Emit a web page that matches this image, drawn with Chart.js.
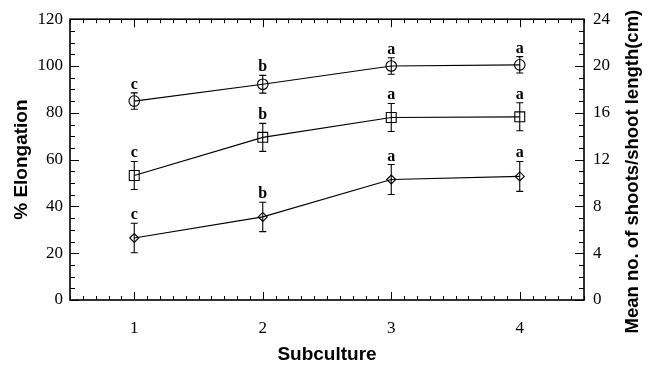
<!DOCTYPE html>
<html>
<head>
<meta charset="utf-8">
<script src="https://cdn.jsdelivr.net/npm/chart.js@4/dist/chart.umd.min.js"></script>
<style>
  html, body { margin: 0; padding: 0; background: #fff; }
</style>
</head>
<body>
<canvas id="chart" width="654" height="368"></canvas>
<script>
// Valores
const subculture = [1, 2, 3, 4];

const circleMean = [85, 92.2, 100, 100.5];
const circleErr = [3.5, 3.8, 3.5, 3.5];
const circleLetters = ['c', 'b', 'a', 'a'];

const squareMean = [53.2, 69.5, 78, 78.3];
const squareErr = [6, 6, 6, 6];
const squareLetters = ['c', 'b', 'a', 'a'];

const diamondMean = [26.5, 35.5, 51.5, 52.8];
const diamondErr = [6.3, 6.3, 6.4, 6.4];
const diamondLetters = ['c', 'b', 'a', 'a'];

const xTicks = [1, 2, 3, 4];
const yTicks = [0, 20, 40, 60, 80, 100, 120];
const y2Ticks = [0, 4, 8, 12, 16, 20, 24];

const serif = '"Liberation Serif", "Times New Roman", serif';
const sans = '"Liberation Sans", Arial, sans-serif';

const series = [
  { mean: circleMean, err: circleErr, letters: circleLetters, style: 'circle', radius: 5.3 },
  { mean: squareMean, err: squareErr, letters: squareLetters, style: 'rect', radius: 7 },
  { mean: diamondMean, err: diamondErr, letters: diamondLetters, style: 'rectRot', radius: 4.5 },
];

// eixos com marcas para dentro, barras de erro e letras
const framePlugin = {
  id: 'frame',
  afterDatasetsDraw(chart) {
    const { ctx, chartArea: a, scales: { x, y } } = chart;
    ctx.save();
    ctx.strokeStyle = '#000';
    ctx.fillStyle = '#000';

    // barras de erro
    ctx.lineWidth = 1.1;
    series.forEach(s => {
      s.mean.forEach((m, j) => {
        const px = x.getPixelForValue(subculture[j]);
        const top = y.getPixelForValue(m + s.err[j]);
        const bot = y.getPixelForValue(m - s.err[j]);
        ctx.beginPath();
        ctx.moveTo(px, top); ctx.lineTo(px, bot);
        ctx.moveTo(px - 3.5, top); ctx.lineTo(px + 3.5, top);
        ctx.moveTo(px - 3.5, bot); ctx.lineTo(px + 3.5, bot);
        ctx.stroke();
        ctx.font = 'bold 16px ' + serif;
        ctx.textAlign = 'center';
        ctx.textBaseline = 'alphabetic';
        ctx.fillText(s.letters[j], px, top - 4);
      });
    });

    // moldura
    ctx.lineWidth = 1.6;
    ctx.strokeRect(a.left, a.top, a.right - a.left, a.bottom - a.top);

    ctx.lineWidth = 1;
    ctx.beginPath();
    // marcas do eixo x (a cada 0.1)
    for (let i = Math.round(x.min * 10); i <= Math.round(x.max * 10); i++) {
      const px = Math.round(x.getPixelForValue(i / 10)) + 0.5;
      const len = i % 10 === 0 ? 8 : 4;
      ctx.moveTo(px, a.bottom); ctx.lineTo(px, a.bottom - len);
      ctx.moveTo(px, a.top); ctx.lineTo(px, a.top + len);
    }
    // marcas do eixo y (a cada 5)
    for (let v = y.min; v <= y.max; v += 5) {
      const py = Math.round(y.getPixelForValue(v)) + 0.5;
      const len = v % 20 === 0 ? 9 : 5;
      ctx.moveTo(a.left, py); ctx.lineTo(a.left + len, py);
      ctx.moveTo(a.right, py); ctx.lineTo(a.right - len, py);
    }
    ctx.stroke();

    // título do eixo direito (lido de baixo para cima)
    ctx.translate(633, (a.top + a.bottom) / 2 + 12);
    ctx.rotate(-Math.PI / 2);
    ctx.font = 'bold 18.5px ' + sans;
    ctx.textAlign = 'center';
    ctx.textBaseline = 'middle';
    ctx.fillText('Mean no. of shoots/shoot length(cm)', 0, 0);
    ctx.restore();
  }
};

const datasets = series.map(s => ({
  data: s.mean.map((m, j) => ({ x: subculture[j], y: m })),
  borderColor: '#000',
  borderWidth: 1.2,
  pointStyle: s.style,
  pointRadius: s.radius,
  pointBorderColor: '#000',
  pointBorderWidth: 1.1,
  pointBackgroundColor: 'rgba(0,0,0,0)',
  fill: false,
  tension: 0,
  yAxisID: 'y',
}));

new Chart(document.getElementById('chart').getContext('2d'), {
  type: 'line',
  data: { datasets },
  options: {
    responsive: false,
    animation: false,
    layout: { padding: { top: 18, left: 0, right: 0, bottom: 0 } },
    plugins: { legend: { display: false }, tooltip: { enabled: false } },
    scales: {
      x: {
        type: 'linear',
        position: 'bottom',
        min: 0.5,
        max: 4.5,
        afterBuildTicks: s => { s.ticks = xTicks.map(v => ({ value: v })); },
        afterFit: s => { s.height = 68; },
        grid: { display: false, drawTicks: false },
        border: { display: false },
        ticks: { padding: 18, color: '#000', font: { family: serif, size: 17 } },
        title: {
          display: true,
          text: 'Subculture',
          color: '#000',
          font: { family: sans, size: 19, weight: 'bold' },
          padding: { top: 2, bottom: 2 }
        }
      },
      y: {
        position: 'left',
        min: 0,
        max: 120,
        afterBuildTicks: s => { s.ticks = yTicks.map(v => ({ value: v })); },
        afterFit: s => { s.width = 70; },
        grid: { display: false, drawTicks: false },
        border: { display: false },
        ticks: { padding: 7, color: '#000', font: { family: serif, size: 17 } },
        title: {
          display: true,
          text: '% Elongation',
          color: '#000',
          font: { family: sans, size: 19, weight: 'bold' },
          padding: { top: 10, bottom: 10 }
        }
      },
      y2: {
        position: 'right',
        min: 0,
        max: 24,
        afterBuildTicks: s => { s.ticks = y2Ticks.map(v => ({ value: v })); },
        afterFit: s => { s.width = 70; },
        grid: { display: false, drawTicks: false },
        border: { display: false },
        ticks: { padding: 9, color: '#000', font: { family: serif, size: 17 } }
      }
    }
  },
  plugins: [framePlugin]
});
</script>
</body>
</html>
